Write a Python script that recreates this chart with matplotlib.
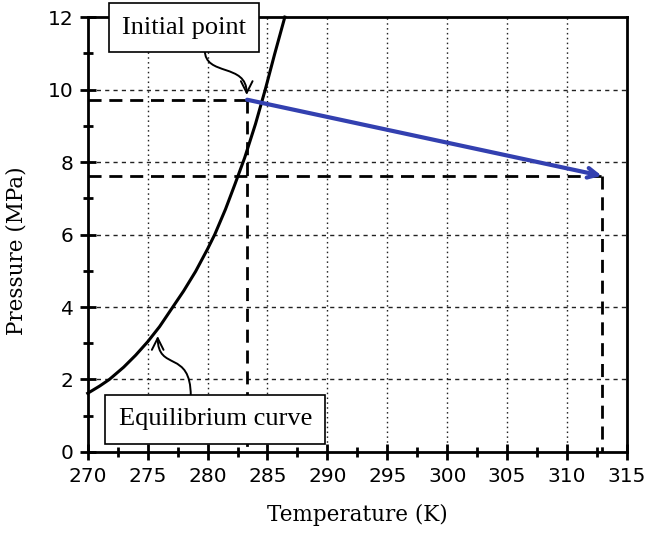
import matplotlib
matplotlib.use("Agg")
import matplotlib.pyplot as plt
from matplotlib.patches import FancyArrowPatch
from matplotlib.path import Path
from matplotlib.ticker import MultipleLocator

# Equilibrium curve
curve_T = [270.0, 271.0, 271.8, 273.0, 274.0, 275.0, 276.0, 277.1, 278.0, 279.0, 280.0,
           280.6, 281.5, 282.3, 283.1, 284.0, 284.8, 285.6, 286.45]
curve_P = [1.62, 1.82, 2.0, 2.34, 2.67, 3.04, 3.46, 4.0, 4.44, 4.98, 5.6,
           6.0, 6.7, 7.4, 8.12, 9.05, 9.98, 10.98, 12.0]

initial_T, initial_P = 283.3, 9.72
final_T, final_P = 312.9, 7.62

x_ticks = [270, 275, 280, 285, 290, 295, 300, 305, 310, 315]
y_ticks = [0, 2, 4, 6, 8, 10, 12]

fig = plt.figure(figsize=(6.45, 5.34), dpi=100)
ax = fig.add_axes([0.136, 0.1536, 0.836, 0.8144])
ax.set_xlim(270, 315)
ax.set_ylim(0, 12)

# grid
for t in x_ticks[1:-1]:
    ax.axvline(t, color="#222222", lw=1.0, ls=(0, (1.1, 2.4)), zorder=1)
for p in y_ticks[1:-1]:
    ax.axhline(p, color="#222222", lw=1.0, ls=(0, (3, 3)), zorder=1)

# dashed guides
dash = (0, (4.7, 2.8))
ax.plot([270, initial_T], [initial_P, initial_P], color="black", lw=2, ls=dash, zorder=2)
ax.plot([initial_T, initial_T], [initial_P, 0], color="black", lw=2, ls=dash, zorder=2)
ax.plot([270, final_T], [final_P, final_P], color="black", lw=2, ls=dash, zorder=2)
ax.plot([final_T, final_T], [final_P, 0], color="black", lw=2, ls=dash, zorder=2)

# curve
ax.plot(curve_T, curve_P, color="black", lw=2.2, zorder=3, clip_on=False,
        solid_joinstyle="round")

# blue arrow
ax.annotate("", xy=(final_T, final_P), xytext=(initial_T, initial_P),
            arrowprops=dict(arrowstyle="->,head_length=0.7,head_width=0.35",
                            color="#3340b0", lw=3, shrinkA=0, shrinkB=0),
            zorder=4)

# text boxes
box = dict(boxstyle="square,pad=0.5", fc="white", ec="black", lw=1.2)
ax.text(278.05, 11.71, "Initial point", ha="center", va="center",
        family="Liberation Serif", fontsize=19, bbox=box, zorder=6, clip_on=False)
ax.text(280.64, 0.90, "Equilibrium curve", ha="center", va="center",
        family="Liberation Serif", fontsize=19, bbox=box, zorder=6)

# curly arrows (S-shaped)
def s_arrow(p0, c1, c2, p1):
    path = Path([p0, c1, c2, p1], [Path.MOVETO, Path.CURVE4, Path.CURVE4, Path.CURVE4])
    arr = FancyArrowPatch(path=path, arrowstyle="->,head_length=0.6,head_width=0.3",
                          mutation_scale=14, color="black", lw=1.4, zorder=5)
    ax.add_patch(arr)

s_arrow((279.77, 11.09), (279.77, 10.35), (283.27, 10.75), (283.27, 9.85))
s_arrow((278.6, 1.54), (278.6, 2.85), (275.84, 2.2), (275.84, 3.2))

# axes style
for s in ax.spines.values():
    s.set_linewidth(2)
ax.set_xticks(x_ticks)
ax.set_yticks(y_ticks)
ax.xaxis.set_minor_locator(MultipleLocator(2.5))
ax.yaxis.set_minor_locator(MultipleLocator(1))
ax.tick_params(which="major", direction="inout", length=12, width=2, labelsize=14.5,
               top=False, right=False)
ax.tick_params(which="minor", direction="inout", length=7, width=2,
               top=False, right=False)
ax.tick_params(axis="x", pad=5)
ax.tick_params(axis="y", pad=4)
ax.set_xlabel("Temperature (K)", family="DejaVu Serif", fontsize=15.5, va="center")
ax.set_ylabel("Pressure (MPa)", family="DejaVu Serif", fontsize=15.5, va="center")
ax.xaxis.set_label_coords(0.5, -0.145)
ax.yaxis.set_label_coords(-0.132, 0.464)

fig.savefig("out.png", dpi=100)
